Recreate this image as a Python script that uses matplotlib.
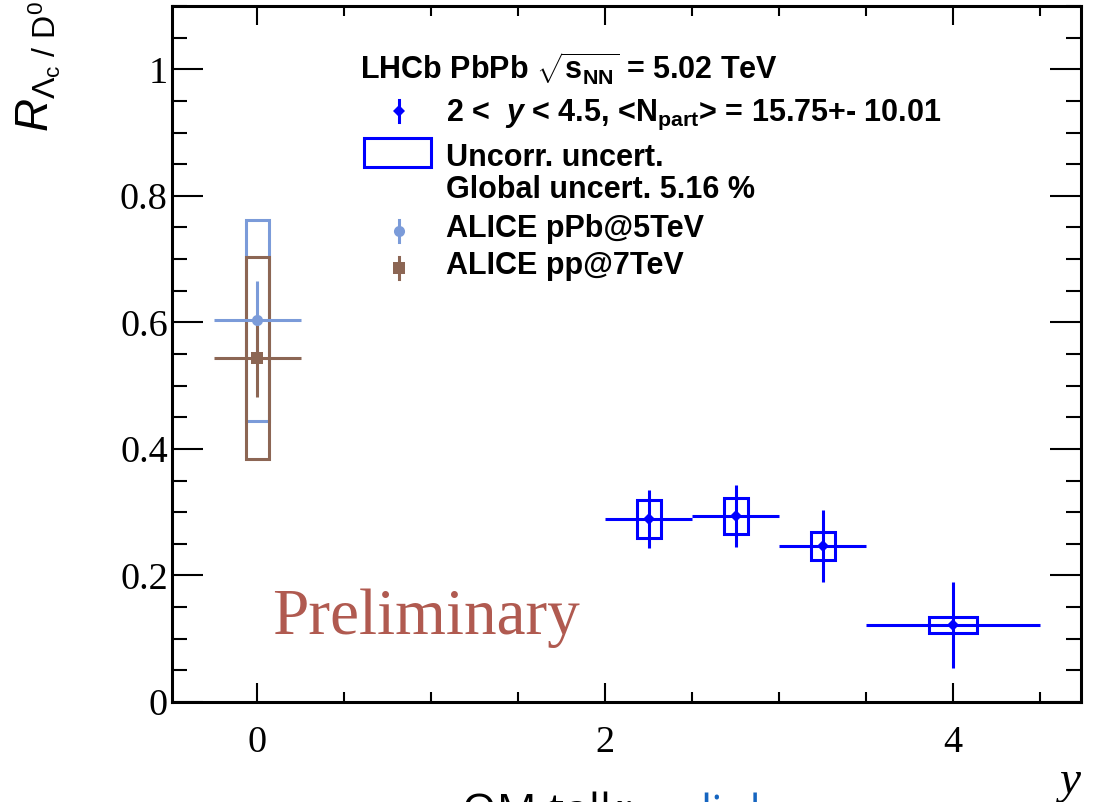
import matplotlib
matplotlib.use("Agg")
import matplotlib.pyplot as plt
from matplotlib.patches import Rectangle
from matplotlib.lines import Line2D
from matplotlib.ticker import MultipleLocator

plt.rcParams['mathtext.fontset'] = 'custom'
plt.rcParams['mathtext.rm'] = 'Liberation Sans'
plt.rcParams['mathtext.it'] = 'Liberation Sans:italic'
plt.rcParams['mathtext.bf'] = 'Liberation Sans:bold'
plt.rcParams['mathtext.sf'] = 'Liberation Sans:bold:italic'

# ---------------- data ----------------
lhcb_x = [2.25, 2.75, 3.25, 4.0]
lhcb_xerr = [0.25, 0.25, 0.25, 0.5]
lhcb_val = [0.289, 0.294, 0.247, 0.122]
lhcb_stat = [0.046, 0.049, 0.057, 0.068]
lhcb_syst = [0.030, 0.029, 0.022, 0.013]

alice_ppb_x = [0.0]
alice_ppb_xerr = [0.25]
alice_ppb_val = [0.603]
alice_ppb_stat = [0.062]
alice_ppb_syst = [0.159]

alice_pp_x = [0.0]
alice_pp_xerr = [0.25]
alice_pp_val = [0.544]
alice_pp_stat = [0.062]
alice_pp_syst = [0.160]

xtick_vals = [0, 2, 4]
xtick_labels = ['0', '2', '4']
ytick_vals = [0, 0.2, 0.4, 0.6, 0.8, 1.0]
ytick_labels = ['0', '0.2', '0.4', '0.6', '0.8', '1']

blue = '#0000ff'
lblue = '#7b9bd9'
brown = '#8c6654'
prelim = '#b05a50'

W, H = 1099, 802
fig = plt.figure(figsize=(W / 100, H / 100), dpi=100)
ax = fig.add_axes([172 / W, 1 - 702 / H, (1081 - 172) / W, (702 - 6) / H])

def fx(px):
    return px / W

def fy(py):
    return 1 - py / H

lw = 2.2

def draw_set(x, xerr, val, stat, syst, color, marker, ms, boxfrac):
    for xi, xe, v, s, sy in zip(x, xerr, val, stat, syst):
        bw = boxfrac * xe
        ax.add_patch(Rectangle((xi - bw, v - sy), 2 * bw, 2 * sy, fill=False,
                               edgecolor=color, lw=lw, zorder=3))
    ax.errorbar(x, val, xerr=xerr, yerr=stat, fmt=marker, color=color, ms=ms,
                elinewidth=lw, capsize=0, zorder=4, mew=0)

draw_set(alice_ppb_x, alice_ppb_xerr, alice_ppb_val, alice_ppb_stat, alice_ppb_syst,
         lblue, 'o', 8, 0.265)
draw_set(alice_pp_x, alice_pp_xerr, alice_pp_val, alice_pp_stat, alice_pp_syst,
         brown, 's', 9, 0.265)
draw_set(lhcb_x, lhcb_xerr, lhcb_val, lhcb_stat, lhcb_syst,
         blue, 'D', 6, 0.275)

ax.set_xlim(-0.49, 4.735)
ax.set_ylim(0, 1.1)
ax.xaxis.set_minor_locator(MultipleLocator(0.5))
ax.yaxis.set_minor_locator(MultipleLocator(0.05))
ax.set_yticks(ytick_vals)
ax.set_yticklabels(ytick_labels)
ax.set_xticks(xtick_vals)
ax.set_xticklabels(xtick_labels)

for sp in ax.spines.values():
    sp.set_linewidth(2.2)
ax.tick_params(which='both', direction='in', top=True, right=True, width=1.5)
ax.tick_params(axis='x', which='major', length=14, pad=17)
ax.tick_params(axis='x', which='minor', length=7.5)
ax.tick_params(axis='y', which='major', length=22, pad=3)
ax.tick_params(axis='y', which='minor', length=11)
for lab in ax.get_xticklabels() + ax.get_yticklabels():
    lab.set_fontfamily('Liberation Serif')
    lab.set_fontsize(27.5)

# axis titles
fig.text(fx(1081), fy(793), 'y', fontfamily='Liberation Serif', style='italic',
         fontsize=34, ha='right', va='baseline')
fig.text(fx(14), fy(1), r'$R_{\Lambda_{\rm c}\ /\ {\rm D}^{0}}$', rotation=90,
         fontsize=33, ha='left', va='top')

# Preliminary
fig.text(fx(272), fy(634), 'Preliminary', fontfamily='Liberation Serif',
         fontsize=47, color=prelim, ha='left', va='baseline')

# legend
lf = dict(fontfamily='Liberation Sans', fontweight='bold', fontsize=22, ha='left',
          va='baseline', color='black')
fig.text(fx(360), fy(80), r'LHCb PbPb $\sqrt{\mathbf{s}_{\mathbf{NN}}}$ = 5.02 TeV', **lf)
fig.text(fx(446), fy(121), r'2 <  $\mathsf{y}$ < 4.5, <N$_{\mathbf{part}}$> = 15.75+- 10.01', **lf)
fig.text(fx(446), fy(166), 'Uncorr. uncert.', **lf)
fig.text(fx(446), fy(198), 'Global uncert. 5.16 %', **lf)
fig.text(fx(446), fy(237), 'ALICE pPb@5TeV', **lf)
fig.text(fx(446), fy(274), 'ALICE pp@7TeV', **lf)

# legend symbols
def leg_marker(px, py, color, marker, ms, bar_half):
    fig.add_artist(Line2D([fx(px), fx(px)], [fy(py - bar_half), fy(py + bar_half)],
                          color=color, lw=2.2, transform=fig.transFigure))
    fig.add_artist(Line2D([fx(px)], [fy(py)], marker=marker, ms=ms, color=color, mew=0,
                          transform=fig.transFigure))

leg_marker(399, 111, blue, 'D', 6, 11)
fig.add_artist(Rectangle((fx(364), fy(167)), fx(431) - fx(364), fy(138) - fy(167),
                         fill=False, edgecolor=blue, lw=2.2, transform=fig.transFigure))
leg_marker(399, 231, lblue, 'o', 8, 11)
leg_marker(399, 268, brown, 's', 8, 11)

# cropped footer text (cut at the bottom edge as in the reference)
fig.text(fx(462), fy(792), 'QM talk: ', fontfamily='Open Sans', fontsize=32,
         ha='left', va='top', color='black')
fig.text(fx(700), fy(792), 'link', fontfamily='Open Sans', fontsize=32,
         ha='left', va='top', color='#1565c0')

fig.savefig('out.png', dpi=100)
